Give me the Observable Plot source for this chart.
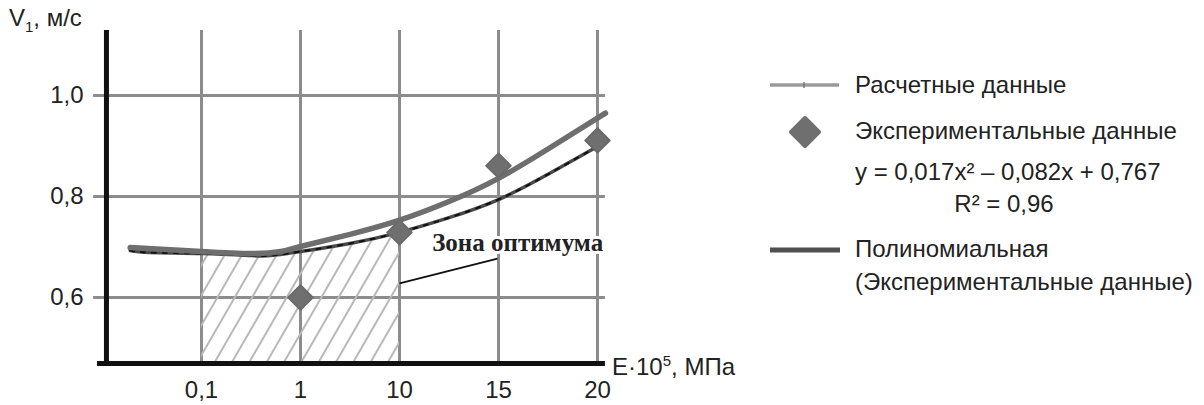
<!DOCTYPE html>
<html><head><meta charset="utf-8">
<script src="https://cdn.jsdelivr.net/npm/d3@7"></script>
<script src="https://cdn.jsdelivr.net/npm/@observablehq/plot@0.6"></script>
<style>
body{margin:0;background:#fff;}
#wrap{position:relative;width:1204px;height:405px;font-family:"Liberation Sans",Arial,sans-serif;color:#222;overflow:hidden;}
.lbl{position:absolute;font-size:24px;line-height:24px;white-space:nowrap;}
.lbl sub,.lbl sup{font-size:15px;line-height:0;}
</style></head><body><div id="wrap"></div>
<script>
// categories on the x axis (placed at positions 1..5)
const xCategories = ["0,1", "1", "10", "15", "20"];
const xPositions = [1, 2, 3, 4, 5];
// y ticks
const yTicks = [0.6, 0.8, 1.0];
const yTickLabels = ["0,6", "0,8", "1,0"];
const yDomain = [0.4693, 1.1287];

// Расчетные данные (lower curve), x in category-position units
const calcX = [0.28, 0.48, 1.0, 1.5, 1.7, 2.0, 2.5, 3.0, 3.5, 4.0, 4.5, 5.0, 5.08];
const calcY = [0.693, 0.689, 0.687, 0.683, 0.683, 0.691, 0.707, 0.729, 0.758, 0.794, 0.844, 0.899, 0.909];

// Полиномиальная (upper curve)
const polyX = [0.28, 1.0, 1.5, 1.8, 2.0, 2.5, 3.0, 3.5, 4.0, 4.5, 5.08];
const polyY = [0.699, 0.691, 0.687, 0.691, 0.701, 0.725, 0.753, 0.790, 0.836, 0.894, 0.965];

// Экспериментальные данные (diamonds)
const expX = [2, 3, 4, 5];
const expY = [0.600, 0.729, 0.861, 0.911];

// optimum zone
const zoneRange = [1, 3];
const zoneLabel = "Зона оптимума";
const zoneLabelPos = [3.33, 0.707];
const zoneLeader = [[3.0, 0.628], [3.99, 0.677]];

const calc = calcX.map((x, i) => ({x, y: calcY[i]}));
const poly = polyX.map((x, i) => ({x, y: polyY[i]}));
const exp = expX.map((x, i) => ({x, y: expY[i]}));
const zone = calc.filter(d => d.x >= zoneRange[0] && d.x <= zoneRange[1]);

const svg = Plot.plot({
  width: 1204, height: 405,
  marginLeft: 102, marginRight: 607, marginTop: 30, marginBottom: 42,
  x: {type: "linear", domain: [0, 5], axis: null},
  y: {domain: yDomain, axis: null},
  style: {fontFamily: "Liberation Sans, Arial, sans-serif", fontSize: "24px", color: "#222", background: "transparent"},
  marks: [
    Plot.ruleX(xPositions, {y1: yDomain[0], y2: yDomain[1], stroke: "#8c8c8c", strokeWidth: 3}),
    Plot.ruleY(yTicks, {x1: -0.09, x2: 5.08, stroke: "#8c8c8c", strokeWidth: 3}),
    Plot.areaY(zone, {x: "x", y1: yDomain[0], y2: "y", fill: "url(#hatch)", curve: "natural"}),
    Plot.line(calc, {x: "x", y: "y", stroke: "#4a4a4a", strokeWidth: 3.5, curve: "natural"}),
    Plot.line(calc, {x: "x", y: "y", stroke: "#111", strokeWidth: 2, strokeDasharray: "4,7", curve: "natural"}),
    Plot.line(poly, {x: "x", y: "y", stroke: "#6e6e6e", strokeWidth: 5.5, curve: "natural"}),
    Plot.dot(exp, {x: "x", y: "y", symbol: "diamond2", r: 11, fill: "#6f6f6f", stroke: "#6a6a6a", strokeWidth: 2, strokeLinejoin: "round"}),
    Plot.link([zoneLeader], {x1: d => d[0][0], y1: d => d[0][1], x2: d => d[1][0], y2: d => d[1][1], stroke: "#111", strokeWidth: 2}),
    Plot.text([zoneLabel], {x: zoneLabelPos[0], y: zoneLabelPos[1], text: d => d, textAnchor: "start",
      fontFamily: "Liberation Serif, serif", fontWeight: "bold", fontSize: 25, fill: "#222", stroke: "white", strokeWidth: 6}),
    Plot.ruleX([0.04], {y1: yDomain[0], y2: yDomain[1], stroke: "#111", strokeWidth: 5}),
    Plot.ruleY([yDomain[0]], {x1: -0.05, x2: 5.08, stroke: "#111", strokeWidth: 5}),
    Plot.axisX(xPositions, {label: null, tickFormat: v => xCategories[xPositions.indexOf(v)], tickSize: 0, tickPadding: 17, fontSize: 24, fill: "#222"}),
    Plot.axisY(yTicks, {label: null, tickFormat: v => yTickLabels[yTicks.indexOf(v)], tickSize: 0, tickPadding: 19, fontSize: 24, fill: "#222"})
  ]
});
d3.select(svg).insert("defs", ":first-child").html(
  '<pattern id="hatch" patternUnits="userSpaceOnUse" width="15" height="15" patternTransform="rotate(30)">' +
  '<line x1="7" y1="-1" x2="7" y2="16" stroke="#b8b8b8" stroke-width="2"/></pattern>');
svg.style.position = "absolute"; svg.style.left = "0"; svg.style.top = "0";
const wrap = document.getElementById("wrap");
wrap.appendChild(svg);

function label(html, left, top, extra) {
  const d = document.createElement("div");
  d.className = "lbl"; d.innerHTML = html;
  d.style.left = left + "px"; d.style.top = top + "px";
  if (extra) Object.assign(d.style, extra);
  wrap.appendChild(d);
  return d;
}
label("V<sub>1</sub>, м/с", 9, 6);
label("E·10<sup>5</sup>, МПа", 612, 355);

// legend
const legendLabels = ["Расчетные данные", "Экспериментальные данные",
  "y = 0,017x² – 0,082x + 0,767", "R² = 0,96", "Полиномиальная", "(Экспериментальные данные)"];
const legendSvg = d3.select(wrap).append("svg").attr("width", 100).attr("height", 300)
  .style("position", "absolute").style("left", "760px").style("top", "50px");
legendSvg.append("line").attr("x1", 10).attr("x2", 79).attr("y1", 35).attr("y2", 35).attr("stroke", "#9a9a9a").attr("stroke-width", 3.5);
legendSvg.append("line").attr("x1", 44).attr("x2", 44).attr("y1", 32).attr("y2", 38).attr("stroke", "#777").attr("stroke-width", 1.5);
legendSvg.append("path").attr("d", "M45,68 L59,82 L45,96 L31,82 Z").attr("fill", "#6f6f6f").attr("stroke", "#6f6f6f").attr("stroke-width", 4).attr("stroke-linejoin", "round");
legendSvg.append("line").attr("x1", 10).attr("x2", 80).attr("y1", 200).attr("y2", 200).attr("stroke", "#4f4f4f").attr("stroke-width", 5);
label(legendLabels[0], 855, 73);
label(legendLabels[1], 855, 119);
label(legendLabels[2], 855, 160);
label(legendLabels[3], 1004, 192, {transform: "translateX(-50%)"});
label(legendLabels[4], 855, 237);
label(legendLabels[5], 855, 270);
</script></body></html>
